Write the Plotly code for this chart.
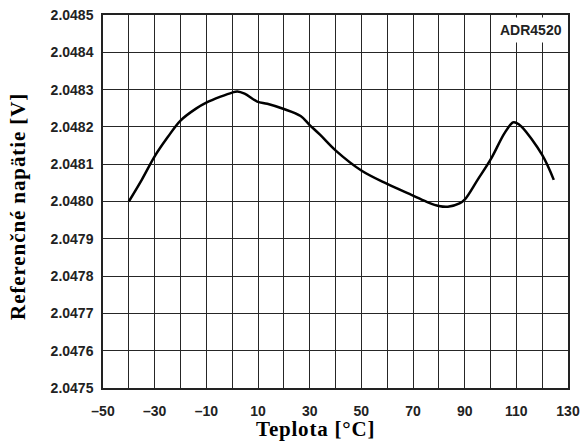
import plotly.graph_objects as go

# Reference voltage of the ADR4520 versus temperature
temperature_c = [-40, -35, -30, -25, -20, -14, -10, -4.5, 0, 2, 4.8, 9.7, 13.6, 20, 26.5, 30, 34,
                 40, 50, 60, 70, 76, 80, 83.5, 88, 90, 95, 100, 105.5, 108.7, 110, 112, 120, 124.5]
voltage_v = [2.048000, 2.048058, 2.048121, 2.048172, 2.048217, 2.048249, 2.048265, 2.048281,
             2.048292, 2.048295, 2.048289, 2.048268, 2.048262, 2.048248, 2.048229, 2.048205,
             2.048179, 2.048137, 2.048083, 2.048047, 2.048016, 2.047997, 2.047988, 2.047986,
             2.047995, 2.048005, 2.048058, 2.048112, 2.048184, 2.048212, 2.048211, 2.048201,
             2.048125, 2.048058]

x_ticks = list(range(-50, 131, 10))
x_tick_text = [("\u2013" + str(abs(v)) if v < 0 else str(v)) if (v + 50) % 20 == 0 else "" for v in x_ticks]
y_ticks = [2.0475 + i * 0.0001 for i in range(11)]
y_tick_text = [f"{v:.4f}" for v in y_ticks]

x_title = "Teplota [°C]"
y_title = "Referenčné napätie [V]"

grid_color = "#262626"
tick_font = dict(family="Liberation Sans, Arial, sans-serif", size=14, color="#222222", weight="bold")
title_font = dict(family="Liberation Serif, Times New Roman, serif", size=21, color="#000000", weight="bold")

fig = go.Figure()
fig.add_trace(go.Scatter(
    x=temperature_c, y=voltage_v, mode="lines",
    line=dict(color="#000000", width=2.5, shape="spline", smoothing=1.0),
    showlegend=False, hoverinfo="skip",
))

fig.add_annotation(
    text="ADR4520", xref="paper", yref="paper", x=0.997, y=0.995,
    xanchor="right", yanchor="top", showarrow=False,
    font=dict(family="Liberation Sans, Arial, sans-serif", size=14, color="#222222", weight="bold"),
    bgcolor="#ffffff", borderpad=4,
)

# Axis titles placed as annotations
fig.add_annotation(
    text=f'<span style="letter-spacing:0.8px">{x_title}</span>',
    xref="paper", yref="paper", x=0.456, y=-0.109,
    xanchor="center", yanchor="middle", showarrow=False, font=title_font,
)
fig.add_annotation(
    text=f'<span style="letter-spacing:0.9px">{y_title}</span>',
    xref="paper", yref="paper", x=-0.183, y=0.488, textangle=-90,
    xanchor="center", yanchor="middle", showarrow=False, font=title_font,
)

fig.update_layout(
    width=581, height=441,
    margin=dict(l=103, r=13, t=15, b=53, autoexpand=False),
    paper_bgcolor="#ffffff", plot_bgcolor="#ffffff",
    xaxis=dict(
        range=[-50, 130], tickvals=x_ticks, ticktext=x_tick_text, automargin=False,
        showgrid=True, gridcolor=grid_color, gridwidth=1,
        showline=True, linecolor="#222222", linewidth=1.5, mirror=True,
        ticks="", ticklabelstandoff=9, tickfont=tick_font, zeroline=False,
    ),
    yaxis=dict(
        range=[2.0475, 2.0485], tickvals=y_ticks, ticktext=y_tick_text, automargin=False,
        showgrid=True, gridcolor=grid_color, gridwidth=1,
        showline=True, linecolor="#222222", linewidth=1.5, mirror=True,
        ticks="", ticklabelstandoff=5, tickfont=tick_font, zeroline=False,
    ),
)

fig.write_html("out.html")
